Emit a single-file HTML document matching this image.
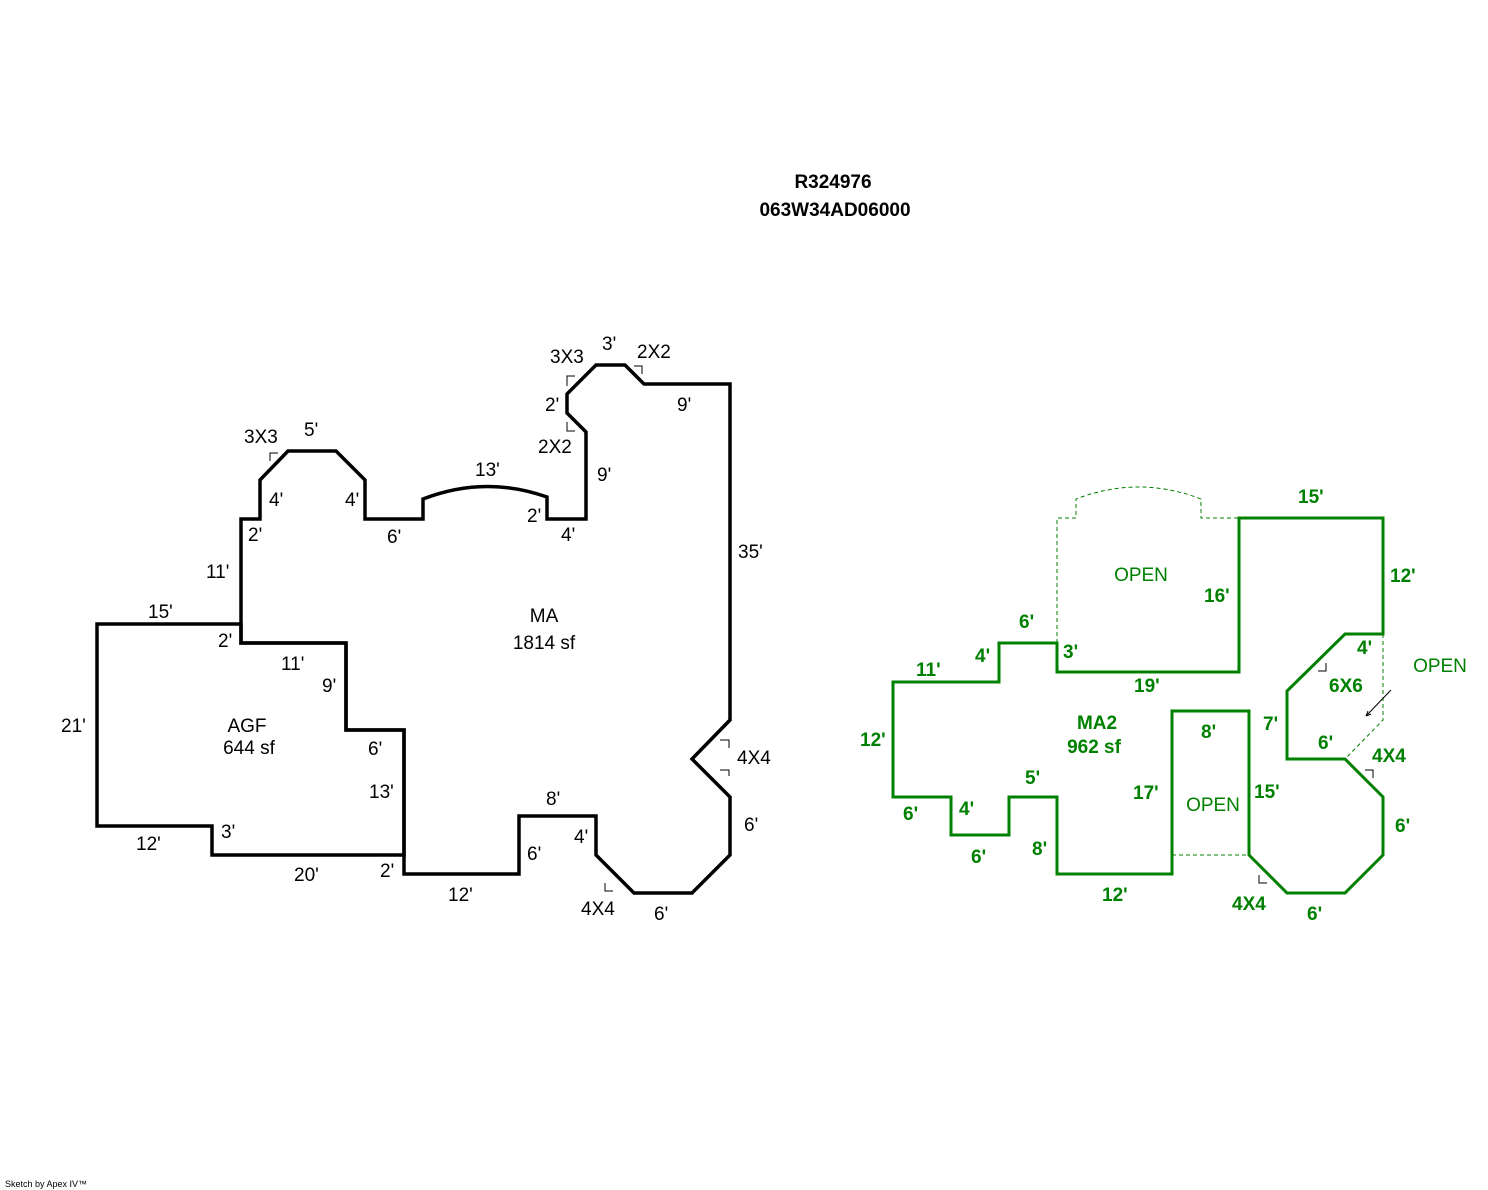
<!DOCTYPE html>
<html><head><meta charset="utf-8"><style>
html,body{margin:0;padding:0;background:#fff;}
svg{display:block;}
text{font-family:"Liberation Sans",Arial,sans-serif;font-size:19px;}
.g{fill:#008000;font-weight:bold;}
.k{fill:#000;}
</style></head><body>
<svg width="1488" height="1190" viewBox="0 0 1488 1190" xmlns="http://www.w3.org/2000/svg">
<rect width="1488" height="1190" fill="#fff"/>
<text x="833" y="188" text-anchor="middle" style="font-weight:bold;font-size:19px">R324976</text>
<text x="835" y="216" text-anchor="middle" style="font-weight:bold;font-size:19px">063W34AD06000</text>

<!-- Black MA -->
<g fill="none" stroke="#000" stroke-width="3.5" stroke-linejoin="miter">
<path d="M241,519 L260,519 L260,480 L288,451 L336,451 L365,480 L365,519 L423,519 L423,499 Q485,475 547,497 L547,519 L586,519 L586,432 L567,413 L567,394 L596,365 L625,365 L644,384 L730,384 L730,720 L692,759 L730,797 L730,855 L692,893 L634,893 L596,855 L596,816 L519,816 L519,874 L404,874 L404,855 L404,730 L346,730 L346,643 L241,643 Z"/>
<path d="M97,624 L241,624 L241,643 L346,643 L346,730 L404,730 L404,855 L212,855 L212,826 L97,826 Z"/>
</g>
<g fill="none" stroke="#000" stroke-width="1">
<path d="M270,461 V453 H278"/><path d="M567,386 V376 H575"/><path d="M567,422 V431 H575"/>
<path d="M634,366 H642 V374"/><path d="M720,740 H729 V748"/><path d="M720,770 H729 V776"/>
<path d="M605,883 V891 H613"/>
</g>
<g class="k">
<text x="244" y="443">3X3</text><text x="304" y="436">5'</text><text x="269" y="506">4'</text><text x="345" y="506">4'</text>
<text x="248" y="541">2'</text><text x="387" y="543">6'</text><text x="475" y="476">13'</text><text x="527" y="522">2'</text>
<text x="561" y="541">4'</text><text x="597" y="481">9'</text><text x="538" y="453">2X2</text><text x="545" y="411">2'</text>
<text x="550" y="363">3X3</text><text x="602" y="350">3'</text><text x="637" y="358">2X2</text><text x="677" y="411">9'</text>
<text x="738" y="558">35'</text><text x="737" y="764">4X4</text><text x="744" y="831">6'</text><text x="654" y="920">6'</text>
<text x="581" y="915">4X4</text><text x="574" y="843">4'</text><text x="546" y="805">8'</text><text x="527" y="860">6'</text>
<text x="448" y="901">12'</text><text x="380" y="877">2'</text><text x="294" y="881">20'</text><text x="221" y="838">3'</text>
<text x="136" y="850">12'</text><text x="61" y="732">21'</text><text x="148" y="618">15'</text><text x="218" y="647">2'</text>
<text x="206" y="578">11'</text><text x="281" y="670">11'</text><text x="322" y="692">9'</text><text x="368" y="755">6'</text>
<text x="369" y="798">13'</text>
<text x="544" y="622" text-anchor="middle">MA</text><text x="544" y="649" text-anchor="middle">1814 sf</text>
<text x="247" y="732" text-anchor="middle">AGF</text><text x="249" y="754" text-anchor="middle">644 sf</text>
</g>

<!-- Green MA2 -->
<g fill="none" stroke="#008000" stroke-width="3">
<path d="M893,682 L999,682 L999,643 L1057,643 L1057,672 L1239,672 L1239,518 L1383,518 L1383,634 L1345,634 L1287,691 L1287,759 L1345,759 L1383,797 L1383,855 L1345,893 L1287,893 L1249,855 L1249,711 L1172,711 L1172,874 L1057,874 L1057,797 L1009,797 L1009,835 L951,835 L951,797 L893,797 Z"/>
</g>
<g fill="none" stroke="#008000" stroke-width="1" stroke-dasharray="4,3">
<path d="M1057,643 L1057,518 L1076,518 L1076,499 Q1139,475 1201,499 L1201,518 L1239,518"/>
<path d="M1383,634 L1383,720 L1345,759"/>
<path d="M1172,855 L1249,855"/>
</g>
<g fill="none" stroke="#000" stroke-width="1">
<path d="M1318,671 H1326 V663"/><path d="M1365,770 H1373 V778"/><path d="M1259,875 V883 H1267"/>
<path d="M1391,690 L1366,716"/><path d="M1366,716 L1368,711 M1366,716 L1371,714"/>
</g>
<g class="g">
<text x="1298" y="503">15'</text><text x="1390" y="582">12'</text><text x="1204" y="602">16'</text><text x="1019" y="628">6'</text>
<text x="975" y="662">4'</text><text x="1063" y="658">3'</text><text x="916" y="676">11'</text><text x="1134" y="692">19'</text>
<text x="1357" y="654">4'</text><text x="1329" y="692">6X6</text><text x="1263" y="730">7'</text><text x="1318" y="749">6'</text>
<text x="1372" y="762">4X4</text><text x="1395" y="832">6'</text><text x="1307" y="920">6'</text><text x="1232" y="910">4X4</text>
<text x="1254" y="798">15'</text><text x="1201" y="738">8'</text><text x="1133" y="799">17'</text><text x="1102" y="901">12'</text>
<text x="1032" y="855">8'</text><text x="1025" y="784">5'</text><text x="971" y="863">6'</text><text x="959" y="815">4'</text>
<text x="903" y="820">6'</text><text x="860" y="746">12'</text>
<text x="1097" y="729" text-anchor="middle">MA2</text><text x="1094" y="753" text-anchor="middle">962 sf</text>
</g>
<g style="fill:#008000">
<text x="1141" y="581" text-anchor="middle">OPEN</text>
<text x="1213" y="811" text-anchor="middle">OPEN</text>
<text x="1440" y="672" text-anchor="middle">OPEN</text>
</g>
<text x="5" y="1187" style="font-size:9px">Sketch by Apex IV™</text>
</svg>
</body></html>
